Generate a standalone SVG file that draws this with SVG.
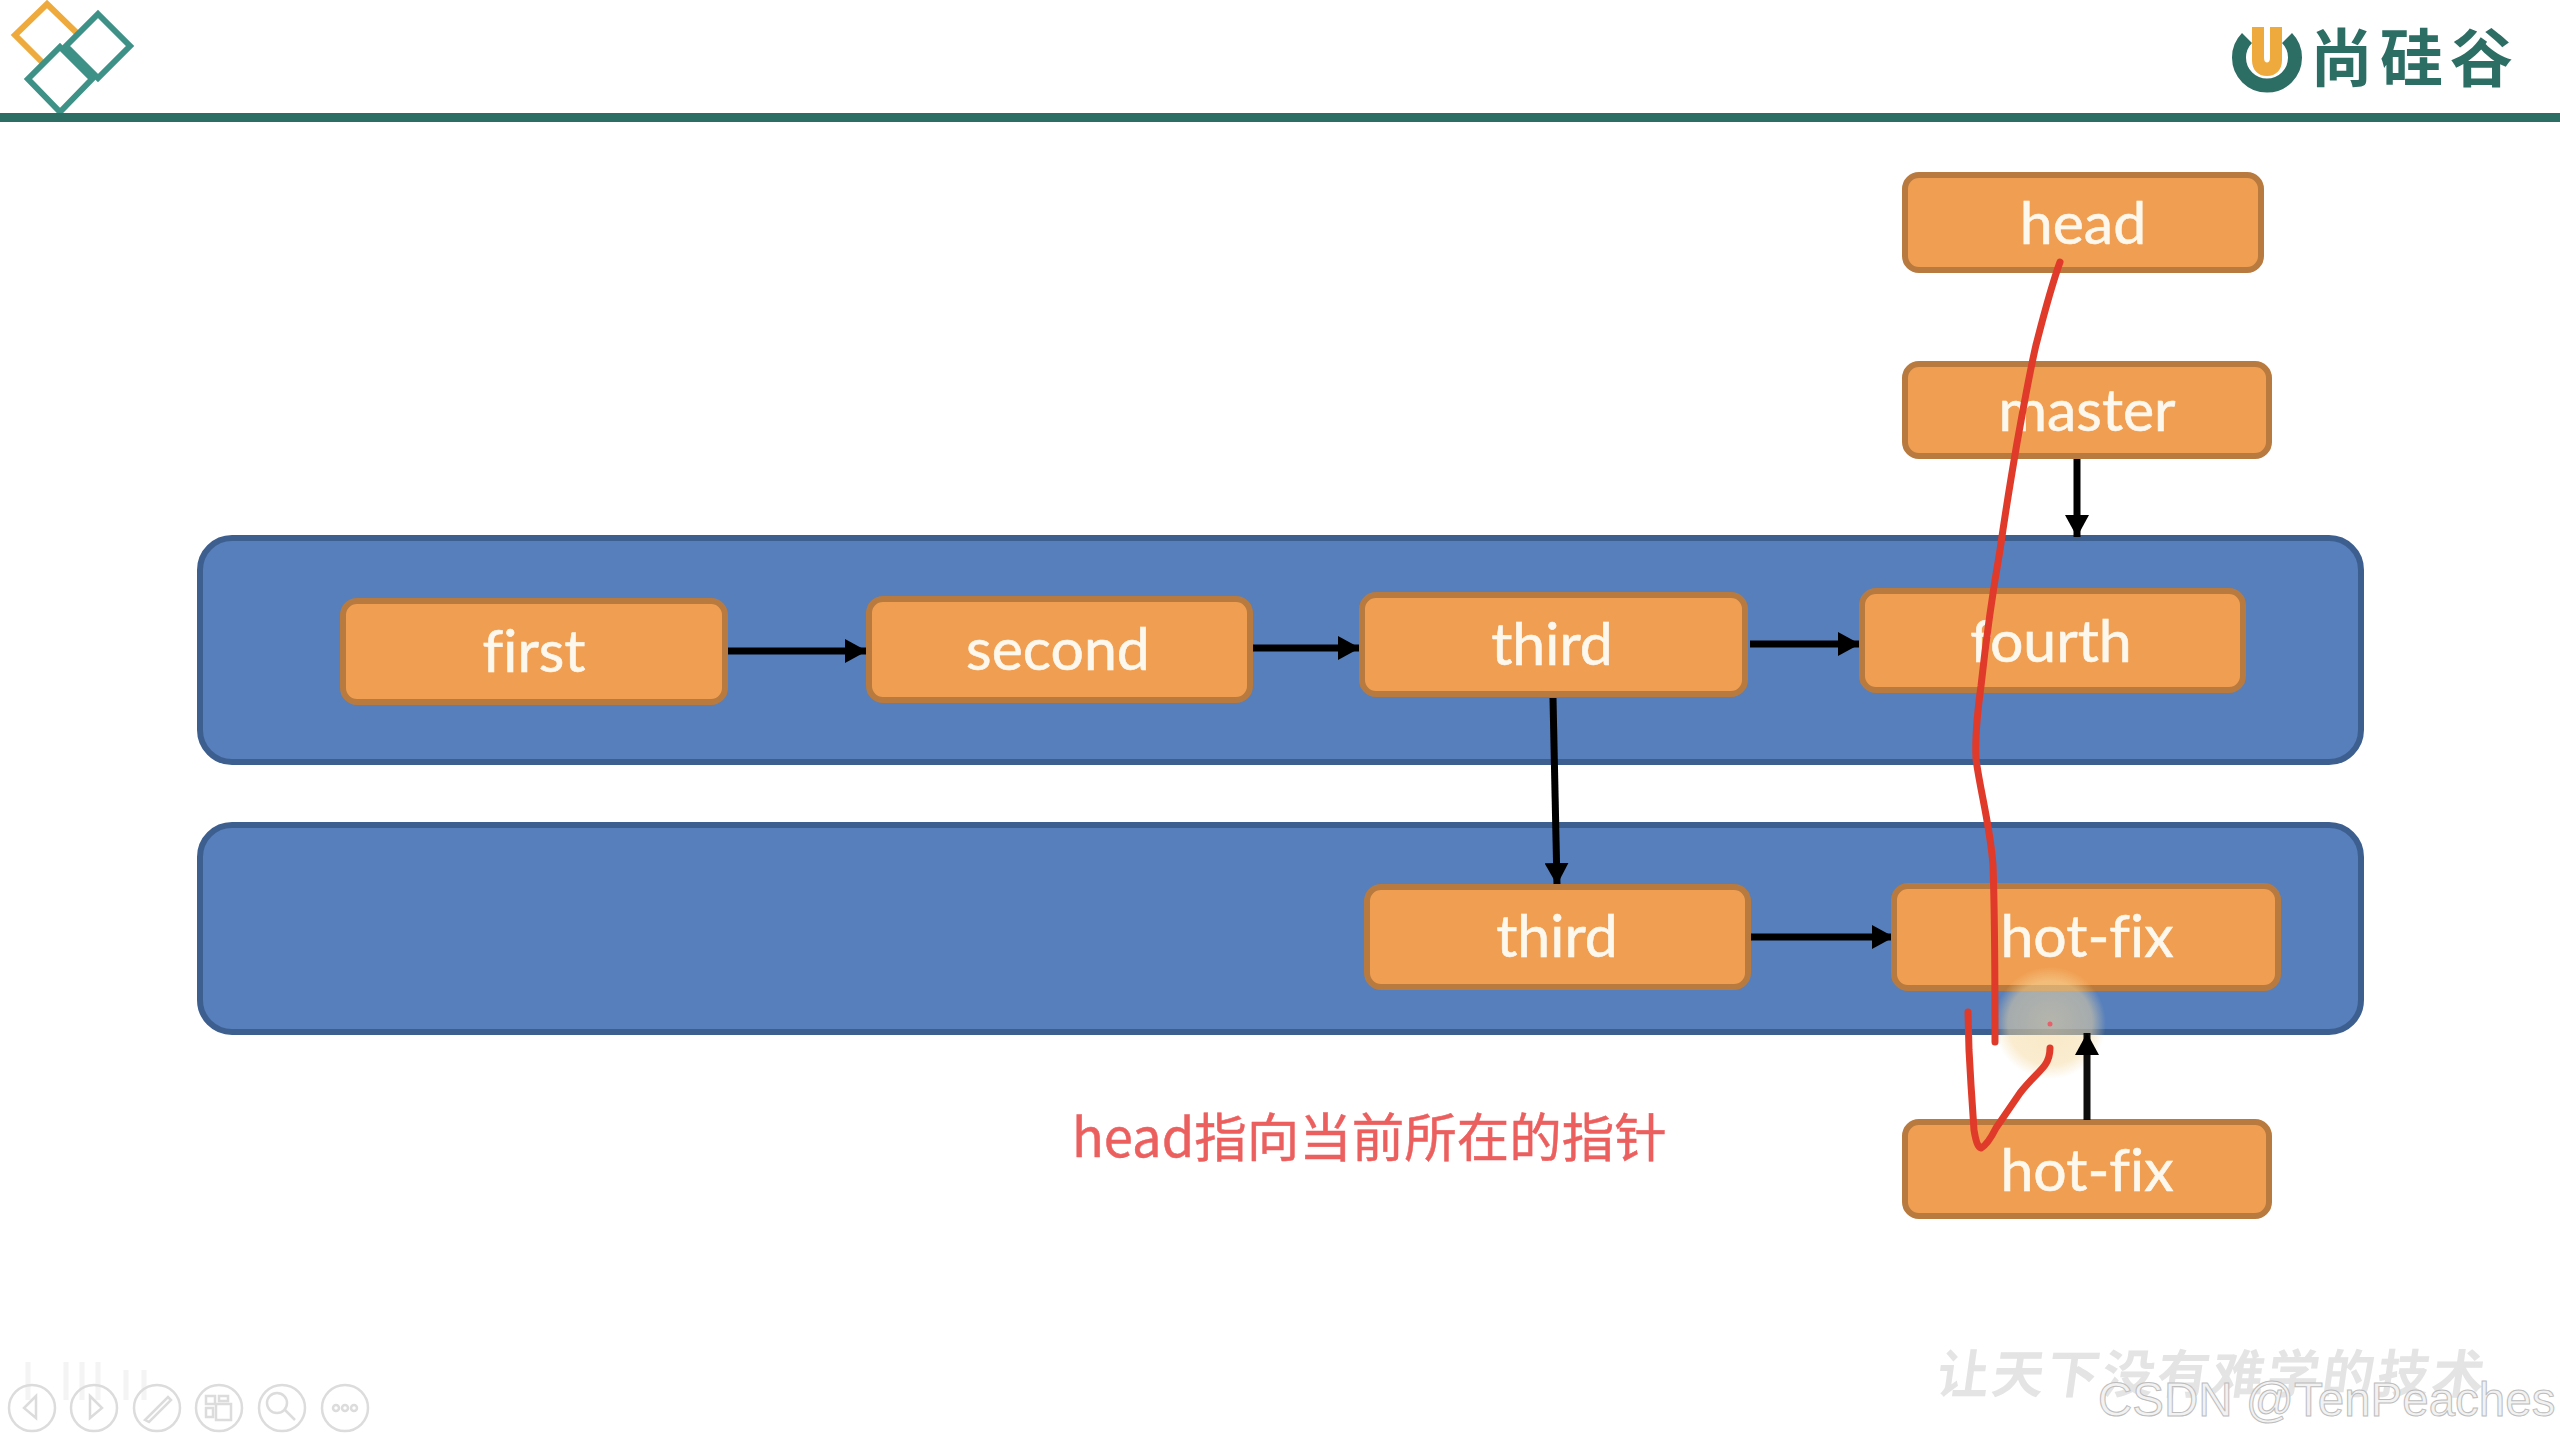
<svg xmlns="http://www.w3.org/2000/svg" width="2560" height="1440" viewBox="0 0 2560 1440">
<defs>
<marker id="ah" markerUnits="userSpaceOnUse" markerWidth="24" markerHeight="24" refX="22" refY="12" orient="auto"><path d="M0 0L22 12L0 24Z" fill="#000"/></marker>
<radialGradient id="glow"><stop offset="0" stop-color="#f5d9a0" stop-opacity="0.6"/><stop offset="0.75" stop-color="#f5d9a0" stop-opacity="0.5"/><stop offset="1" stop-color="#f5d9a0" stop-opacity="0"/></radialGradient>
</defs>
<style>
.band{fill:#567fbc;stroke:#3d5f90;stroke-width:6}
.box{fill:#f09f52;stroke:#b87a3e;stroke-width:6}
.lbl{font-family:Lato,"Noto Sans",sans-serif;font-size:59px;fill:#fdf8ee;text-anchor:middle;font-variant-ligatures:none;stroke:#fdf8ee;stroke-width:0.6}
.conn{fill:none;stroke:#000;stroke-width:7;marker-end:url(#ah)}
.ink{fill:none;stroke:#e03a2a;stroke-width:7;stroke-linecap:round;stroke-linejoin:round}
.tool{fill:none;stroke:#dcdcdc;stroke-width:2.5}
.ghost{fill:none;stroke:#f4f4f4;stroke-width:5}
</style>
<rect width="2560" height="1440" fill="#fff"/>
<g id="logo-left" fill="none" stroke-width="6">
<path d="M47 4L79 35L47 67L15 35Z" stroke="#eeaa3c"/>
<path d="M98 14L130 46L98 78L66 46Z" fill="#fff" stroke="#3e9186"/>
<path d="M60 47L92 79L60 112L28 79Z" fill="#fff" stroke="#3e9186"/>
</g>
<rect id="header-rule" x="0" y="113" width="2560" height="9" fill="#2d6e64"/>
<g id="logo-right">
<path d="M2247 38A28 28 0 1 0 2287 38" fill="none" stroke="#2d6e64" stroke-width="14"/>
<path d="M2252 27L2264 27L2264 58C2264 64 2270 64 2270 58L2270 27L2282 27L2282 60C2282 70 2276 76 2267 76C2258 76 2252 70 2252 60Z" fill="#eeaa3c"/>
<text x="2310" y="81" font-family="'Noto Sans CJK SC',sans-serif" font-weight="700" font-size="63" letter-spacing="7" fill="#2d6e64">尚硅谷</text>
</g>
<g id="band-1"><rect class="band" x="200" y="538" width="2161" height="224" rx="32"/></g>
<g id="band-2"><rect class="band" x="200" y="825" width="2161" height="207" rx="32"/></g>
<g id="connectors">
<path class="conn" d="M727 651H867"/>
<path class="conn" d="M1252 648H1360"/>
<path class="conn" d="M1750 644H1860"/>
<path class="conn" d="M1553 698L1557 885"/>
<path class="conn" d="M1750 937H1894"/>
<path class="conn" d="M2077 458V537"/>
</g>
<g id="node-head"><rect class="box" x="1905" y="175" width="356" height="95" rx="14"/><text class="lbl" x="2083" y="244">head</text></g>
<g id="node-master"><rect class="box" x="1905" y="364" width="364" height="92" rx="14"/><text class="lbl" x="2087" y="431">master</text></g>
<g id="node-first"><rect class="box" x="343" y="601" width="382" height="101" rx="14"/><text class="lbl" x="534" y="672">first</text></g>
<g id="node-second"><rect class="box" x="869" y="599" width="381" height="101" rx="14"/><text class="lbl" x="1058" y="670">second</text></g>
<g id="node-third"><rect class="box" x="1362" y="595" width="383" height="99" rx="14"/><text class="lbl" x="1552" y="665">third</text></g>
<g id="node-fourth"><rect class="box" x="1862" y="591" width="381" height="99" rx="14"/><text class="lbl" x="2051" y="662">fourth</text></g>
<g id="node-third-2"><rect class="box" x="1367" y="887" width="381" height="100" rx="14"/><text class="lbl" x="1557" y="957">third</text></g>
<g id="node-hot-fix"><rect class="box" x="1894" y="886" width="384" height="102" rx="14"/><text class="lbl" x="2087" y="957">hot-fix</text></g>
<g id="node-hot-fix-2"><rect class="box" x="1905" y="1122" width="364" height="94" rx="14"/><text class="lbl" x="2087" y="1191">hot-fix</text></g>
<circle id="pointer-glow" cx="2050" cy="1023" r="56" fill="url(#glow)"/>
<circle cx="2050" cy="1024" r="2.500" fill="#e8606a"/>
<g id="connector-hot-fix"><path class="conn" d="M2087 1120V1033" stroke-opacity="0.95"/></g>
<g id="pen-strokes">
<path class="ink" d="M2060 262C2050 290 2043 318 2036 345C2029 375 2023 410 2017 443C2011 478 2005 515 2000 550C1993 590 1986 640 1981 686C1977 715 1975 740 1976 759C1980 790 1990 825 1993 865C1995 920 1995 985 1995 1042"/>
<path class="ink" d="M1968 1012L1969 1050L1971 1085L1974 1130C1976 1142 1978 1147 1981 1148C1985 1146 1990 1140 1996 1128L2020 1093C2030 1080 2040 1072 2045 1065C2050 1058 2050 1052 2050 1048"/>
</g>
<text id="caption" x="1072" y="1157" font-family="'Noto Sans CJK SC','Noto Sans',sans-serif" font-size="52.500" fill="#ec5f5f" stroke="#ec5f5f" stroke-width="0.5">head指向当前所在的指针</text>
<g id="toolbar">
<path class="ghost" d="M28 1362V1400M66 1362V1400M82 1362V1400M98 1362V1400M126 1370V1400M144 1370V1400"/>
<circle class="tool" cx="32" cy="1408" r="23"/><path class="tool" d="M36 1396L24 1408L36 1418Z"/>
<circle class="tool" cx="94" cy="1408" r="23"/><path class="tool" d="M90 1396L102 1408L90 1418Z"/>
<circle class="tool" cx="157" cy="1408" r="23"/><path class="tool" d="M145 1420L168 1397L171 1400L149 1422Z"/>
<circle class="tool" cx="219" cy="1408" r="23"/><path class="tool" d="M206 1396H215V1404H206ZM219 1396H228V1401H219ZM206 1408H213V1417H206ZM216 1404H231V1420H216Z"/>
<circle class="tool" cx="282" cy="1408" r="23"/><circle class="tool" cx="277" cy="1403" r="10"/><path class="tool" d="M285 1410L295 1420"/>
<circle class="tool" cx="345" cy="1408" r="23"/><circle class="tool" cx="336" cy="1408" r="3"/><circle class="tool" cx="345" cy="1408" r="3"/><circle class="tool" cx="354" cy="1408" r="3"/>
</g>
<text id="slogan" transform="translate(1935 1393) skewX(-8)" font-family="'Noto Sans CJK SC',sans-serif" font-weight="700" font-size="52" letter-spacing="3" fill="#e4e4e4">让天下没有难学的技术</text>
<text id="csdn-mark" x="2098" y="1416" font-family="'Liberation Sans',Arial,sans-serif" font-size="47.500" fill="#f2f2f2" stroke="#bdbdbd" stroke-width="1">CSDN @TenPeaches</text>
</svg>
